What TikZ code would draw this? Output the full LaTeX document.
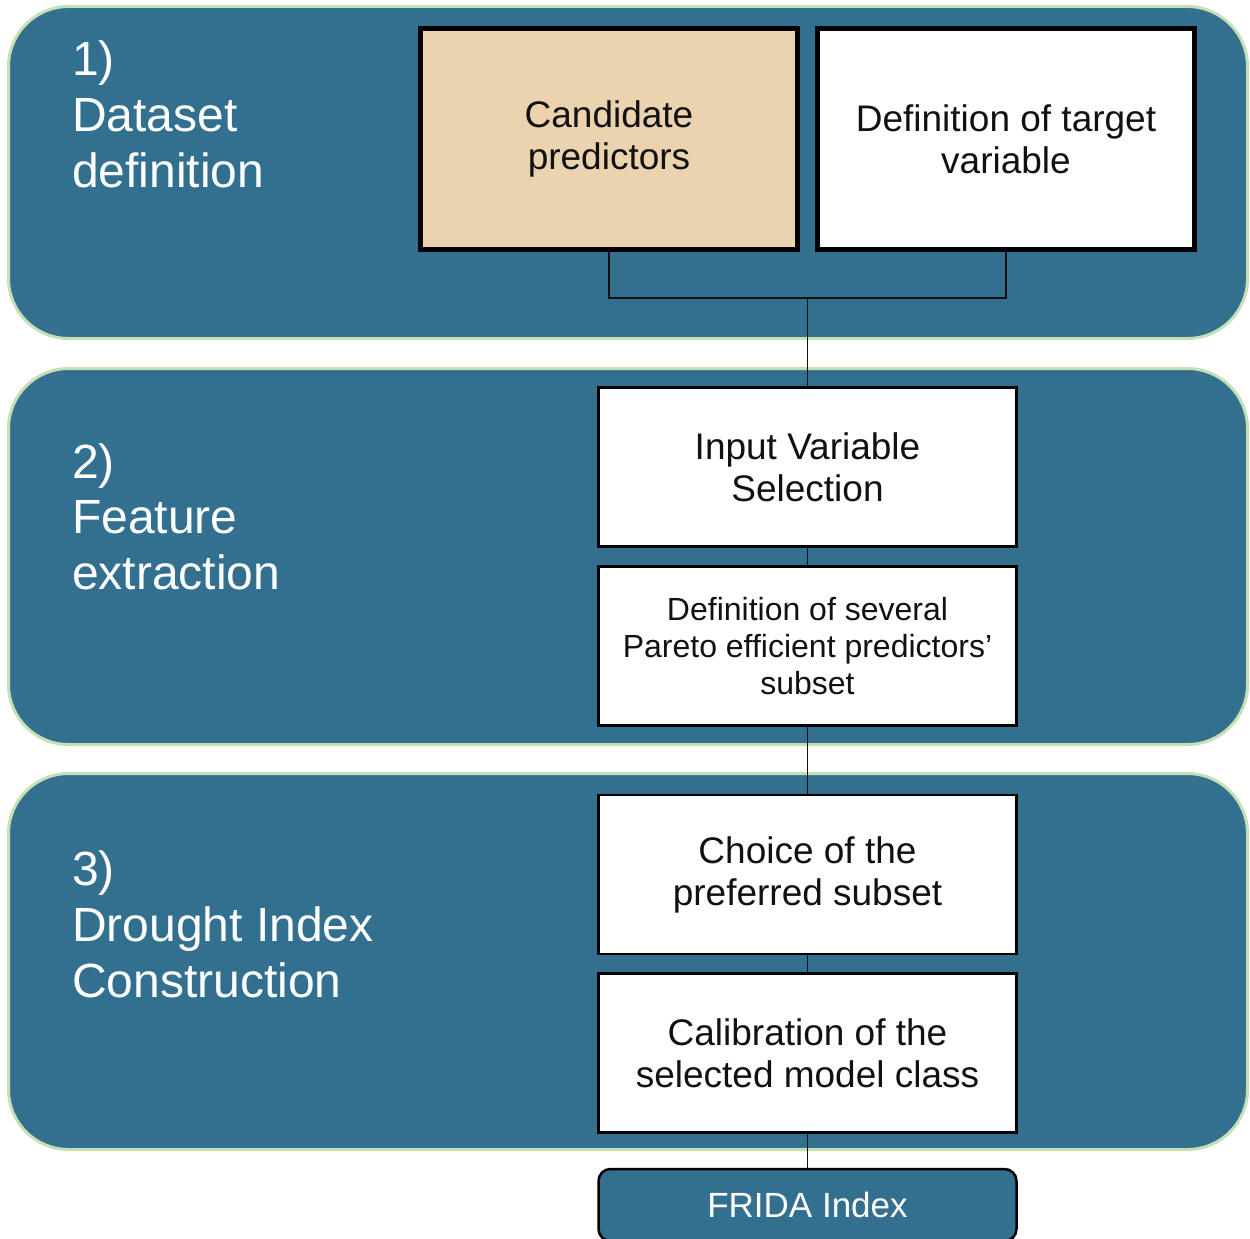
\documentclass[tikz,border=0pt]{standalone}
\usepackage{fontspec}
\setmainfont{Liberation Sans}
\definecolor{panelblue}{RGB}{51,112,143}
\definecolor{paneledge}{RGB}{197,224,180}
\definecolor{candfill}{RGB}{234,211,174}
\definecolor{inkc}{RGB}{17,17,17}
\begin{document}
\begin{tikzpicture}[x=1pt,y=-1pt,
  panelsty/.style={fill=panelblue, draw=paneledge, line width=3pt, rounded corners=60pt},
  bigbox/.style={draw=black, line width=5pt, minimum width=377pt, minimum height=221pt, inner sep=0pt, align=center, text=inkc, font=\fontsize{37}{42}\selectfont},
  smallbox/.style={draw=black, fill=white, line width=2.5pt, minimum width=418pt, minimum height=159pt, inner sep=0pt, align=center, text=inkc, font=\fontsize{37}{42}\selectfont},
  smalltext/.style={font=\fontsize{32}{37}\selectfont},
  lbl/.style={anchor=base west, inner sep=0pt, text=white, font=\fontsize{48}{56}\selectfont},
  conn/.style={draw=inkc, line width=1.5pt}]
\useasboundingbox (0,0) rectangle (1250,1239);
\clip (0,0) rectangle (1250,1239);
% panels
\path[panelsty] (8.5,6.5) rectangle (1247.5,338.5);
\path[panelsty] (8.5,368.5) rectangle (1247.5,744.5);
\path[panelsty] (8.5,773.5) rectangle (1247.5,1149.5);
% panel labels
\node[lbl] (p1a) at (72,75) {1)};
\node[lbl] (p1b) at (72,131) {Dataset};
\node[lbl] (p1c) at (72,187) {definition};
\node[lbl] (p2a) at (72,478) {2)};
\node[lbl] (p2b) at (72,533) {Feature};
\node[lbl] (p2c) at (72,589) {extraction};
\node[lbl] (p3a) at (72,885) {3)};
\node[lbl] (p3b) at (72,941) {Drought Index};
\node[lbl] (p3c) at (72,997) {Construction};
% boxes
\node[bigbox, fill=candfill] (cand) at (609,139) {Candidate\\predictors};
\node[bigbox, fill=white] (targ) at (1006,139) {Definition of target\\variable};
\node[smallbox] (ivs) at (807.5,467) {Input Variable\\Selection};
\node[smallbox, smalltext] (pareto) at (807.5,646) {Definition of several\\Pareto efficient predictors’\\subset};
\node[smallbox] (choice) at (807.5,874.5) {Choice of the\\preferred subset};
\node[smallbox] (calib) at (807.5,1053) {Calibration of the\\selected model class};
\node[draw=black, line width=2.5pt, rounded corners=12pt, fill=panelblue, text=white, minimum width=418pt, minimum height=72pt, inner sep=0pt, font=\fontsize{35}{40}\selectfont] (frida) at (807.5,1205) {FRIDA Index};
% connectors
\coordinate (join) at (ivs.north |- 0,298);
\draw[conn] (cand.south) |- (join) -| (targ.south);
\draw[conn] (join) -- (ivs.north);
\draw[conn] (ivs.south) -- (pareto.north);
\draw[conn] (pareto.south) -- (choice.north);
\draw[conn] (choice.south) -- (calib.north);
\draw[conn] (calib.south) -- (frida.north);
\end{tikzpicture}
\end{document}
